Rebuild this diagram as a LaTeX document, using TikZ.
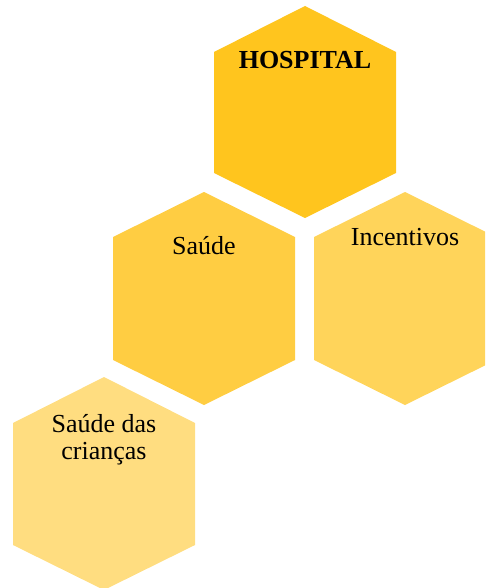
\documentclass[tikz,border=0pt]{standalone}
\usepackage{fontspec}
\setmainfont{Liberation Serif}

\definecolor{goldone}{RGB}{255,197,30}
\definecolor{goldtwo}{RGB}{255,205,66}
\definecolor{goldthree}{RGB}{255,212,90}
\definecolor{goldfour}{RGB}{255,221,128}

\begin{document}
\begin{tikzpicture}[x=1pt,y=-1pt,label text/.style={anchor=base,inner sep=0pt,font=\fontsize{26}{27.5}\selectfont}]

\useasboundingbox (0,0) rectangle (485,588);
\clip (0,0) rectangle (485,588);

% top hexagon
\fill[goldone] (305,6) -- (396,52) -- (396,173) -- (305,218) -- (214,173) -- (214,52) -- cycle;
\node[label text] (hospital) at (305,69) {\textbf{HOSPITAL}};

% middle row
\fill[goldtwo] (204,192) -- (295,237) -- (295,360) -- (204,405) -- (113,360) -- (113,237) -- cycle;
\node[label text] (saude) at (204,254) {Saúde};

\fill[goldthree] (405,192) -- (496,237) -- (496,360) -- (405,405) -- (314,360) -- (314,237) -- cycle;
\node[label text] (incentivos) at (405,245) {Incentivos};

% bottom hexagon
\fill[goldfour] (104,377) -- (195,423) -- (195,545) -- (104,590) -- (13,545) -- (13,423) -- cycle;
\node[label text] (saudecriancas) at (104,432) {Saúde das};
\node[label text] (criancas) at (104,459) {crianças};

\end{tikzpicture}
\end{document}
